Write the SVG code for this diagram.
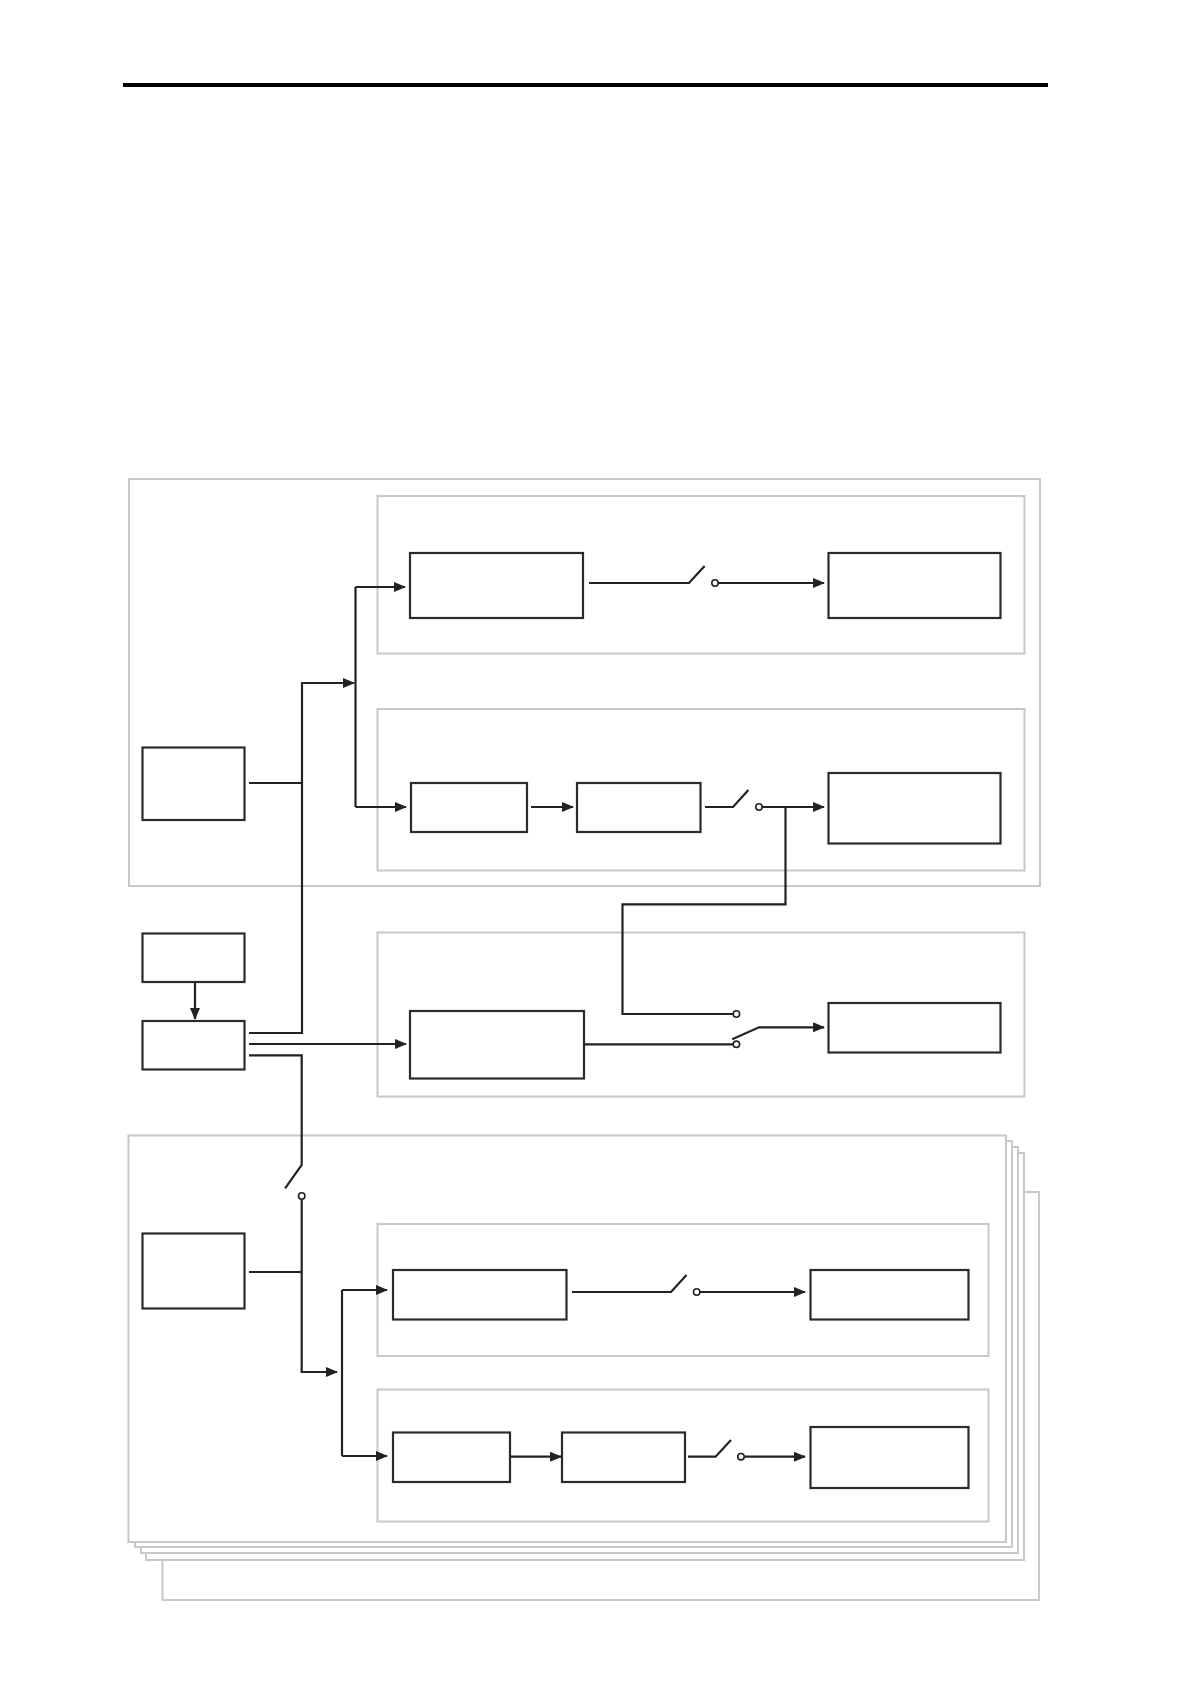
<svg xmlns="http://www.w3.org/2000/svg" width="1190" height="1684" viewBox="0 0 1190 1684">
<style>
.frame{fill:#fff;stroke:#c8c8c8;stroke-width:2}
.blk{fill:#fff;stroke:#2b2b2b;stroke-width:2.2}
.ln{fill:none;stroke:#222;stroke-width:2.2}
.arr{marker-end:url(#ah)}
.sw{fill:#fff;stroke:#222;stroke-width:1.6}
</style>
<defs>
<marker id="ah" markerUnits="userSpaceOnUse" markerWidth="12" markerHeight="10" refX="11" refY="5" orient="auto">
<path d="M0,0 L12,5 L0,10 z" fill="#222"/>
</marker>
</defs>
<rect x="123" y="83" width="925" height="4" fill="#000"/>

<g id="group-upper">
<rect class="frame" x="129" y="479" width="911" height="407"/>
<rect class="frame" x="377.5" y="496" width="647" height="157.5"/>
<rect class="frame" x="377.5" y="709" width="647" height="161.5"/>
</g>
<g id="group-middle">
<rect class="frame" x="377.5" y="932.5" width="647" height="164"/>
</g>
<g id="group-lower-stack">
<rect class="frame" x="162.5" y="1192" width="876.5" height="408"/>
<rect class="frame" x="146" y="1153" width="878" height="407"/>
<rect class="frame" x="141" y="1147" width="877" height="406"/>
<rect class="frame" x="135" y="1141" width="877" height="406"/>
<rect class="frame" x="128.5" y="1135.5" width="877.5" height="406.5"/>
<rect class="frame" x="377.5" y="1224" width="611" height="132"/>
<rect class="frame" x="377.5" y="1389.5" width="611" height="132"/>
</g>

<g id="node-L1"><rect class="blk" x="142.5" y="747.5" width="102" height="72.5"/></g>
<g id="node-A1"><rect class="blk" x="410" y="553" width="173" height="65"/></g>
<g id="node-A2"><rect class="blk" x="828.5" y="553" width="172" height="65"/></g>
<g id="node-B1"><rect class="blk" x="411" y="783" width="116" height="49"/></g>
<g id="node-B2"><rect class="blk" x="577" y="783" width="123.5" height="49"/></g>
<g id="node-B3"><rect class="blk" x="828.5" y="773" width="172" height="70.5"/></g>
<g id="node-M1"><rect class="blk" x="142.5" y="933.5" width="102" height="48.5"/></g>
<g id="node-M2"><rect class="blk" x="142.5" y="1021" width="102" height="48.5"/></g>
<g id="node-C1"><rect class="blk" x="410" y="1011" width="174" height="67.5"/></g>
<g id="node-C2"><rect class="blk" x="828.5" y="1003" width="172" height="49.5"/></g>
<g id="node-L3"><rect class="blk" x="142.5" y="1233.5" width="102" height="75"/></g>
<g id="node-D1"><rect class="blk" x="393" y="1270" width="173.5" height="49.5"/></g>
<g id="node-D2"><rect class="blk" x="810.5" y="1270" width="158" height="49.5"/></g>
<g id="node-E1"><rect class="blk" x="393" y="1432.5" width="117" height="49.5"/></g>
<g id="node-E2"><rect class="blk" x="562" y="1432.5" width="123" height="49.5"/></g>
<g id="node-E3"><rect class="blk" x="810.5" y="1427" width="158" height="61"/></g>

<g id="connectors">
<path class="ln" d="M249,783 H302"/>
<path class="ln arr" d="M249,1033 H302 V683 H354"/>
<path class="ln" d="M355.5,587 V807"/>
<path class="ln arr" d="M355.5,587 H405"/>
<path class="ln arr" d="M355.5,807 H406"/>
<path class="ln" d="M589,583 H689 L704.6,566"/>
<circle class="sw" cx="715" cy="583" r="3.2"/>
<path class="ln arr" d="M718.5,583 H824"/>
<path class="ln arr" d="M531,807 H573"/>
<path class="ln" d="M705,807 H733 L748.4,790"/>
<circle class="sw" cx="759" cy="807" r="3.2"/>
<path class="ln arr" d="M762.5,807 H824"/>
<path class="ln" d="M785.5,807 V904.3 H622.5 V1014 H733"/>
<circle class="sw" cx="736.4" cy="1014" r="3.2"/>
<path class="ln arr" d="M195,982 V1019"/>
<path class="ln arr" d="M249,1044 H406"/>
<path class="ln" d="M584,1044.3 H733"/>
<circle class="sw" cx="736.4" cy="1044.3" r="3.2"/>
<path class="ln arr" d="M732.2,1039.3 L759,1027.3 H824"/>
<path class="ln" d="M249,1055.3 H301.7 V1165 L285.1,1188.3"/>
<circle class="sw" cx="301.7" cy="1196" r="3.2"/>
<path class="ln arr" d="M301.7,1199.2 V1372 H337"/>
<path class="ln" d="M249,1272 H301.7"/>
<path class="ln" d="M342,1290 V1456"/>
<path class="ln arr" d="M342,1290 H387"/>
<path class="ln arr" d="M342,1456 H387"/>
<path class="ln" d="M572,1292 H671 L686.5,1275"/>
<circle class="sw" cx="696.7" cy="1292" r="3.2"/>
<path class="ln arr" d="M700,1292 H805"/>
<path class="ln arr" d="M510,1456.7 H561"/>
<path class="ln" d="M688,1456.7 H715.5 L731,1440"/>
<circle class="sw" cx="741" cy="1456.7" r="3.2"/>
<path class="ln arr" d="M744.4,1456.7 H805"/>
</g>
</svg>
